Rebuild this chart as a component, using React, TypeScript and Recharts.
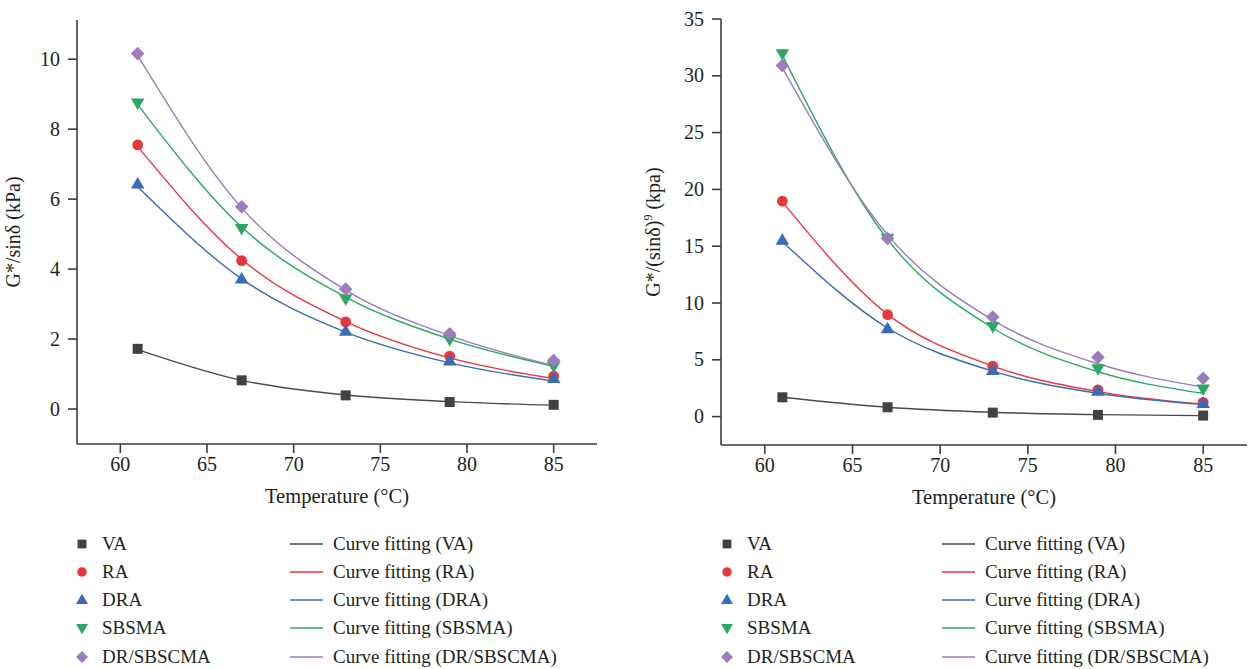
import React from 'react';
import { ComposedChart, Line, Scatter, XAxis, YAxis, Label } from 'recharts';

// Test temperatures (°C) and axis ticks
const temps = [61, 67, 73, 79, 85];
const xTicks = [60, 65, 70, 75, 80, 85];
const leftTicks = [0, 2, 4, 6, 8, 10];
const rightTicks = [0, 5, 10, 15, 20, 25, 30, 35];

// G*/sinδ (kPa) – measured
const rutVA = [1.72, 0.82, 0.39, 0.2, 0.12];
const rutRA = [7.55, 4.24, 2.49, 1.51, 0.94];
const rutDRA = [6.43, 3.72, 2.22, 1.37, 0.87];
const rutSBSMA = [8.75, 5.16, 3.15, 1.99, 1.22];
const rutDRSBSCMA = [10.16, 5.78, 3.43, 2.15, 1.39];

// G*/sinδ (kPa) – fitted curves
const rutFitVA = [1.7, 0.82, 0.4, 0.21, 0.11];
const rutFitRA = [7.5, 4.28, 2.5, 1.46, 0.87];
const rutFitDRA = [6.35, 3.72, 2.2, 1.32, 0.8];
const rutFitSBSMA = [8.7, 5.2, 3.2, 2.0, 1.22];
const rutFitDRSBSCMA = [10.1, 5.75, 3.4, 2.1, 1.24];

// G*/(sinδ)^9 (kpa) – measured
const sfVA = [1.7, 0.82, 0.35, 0.15, 0.09];
const sfRA = [18.97, 8.97, 4.44, 2.35, 1.26];
const sfDRA = [15.53, 7.74, 4.06, 2.23, 1.15];
const sfSBSMA = [31.95, 15.7, 7.94, 4.21, 2.44];
const sfDRSBSCMA = [30.9, 15.68, 8.76, 5.23, 3.38];

// G*/(sinδ)^9 (kpa) – fitted curves
const sfFitVA = [1.7, 0.82, 0.38, 0.17, 0.08];
const sfFitRA = [18.9, 9.0, 4.45, 2.2, 1.1];
const sfFitDRA = [15.4, 7.8, 4.0, 2.05, 1.05];
const sfFitSBSMA = [31.8, 15.6, 7.8, 3.95, 2.05];
const sfFitDRSBSCMA = [30.7, 16.0, 8.5, 4.65, 2.6];

const FONT = '"Liberation Serif", "Times New Roman", serif';
const INK = '#231f20';
const AXIS = '#3d3d3d';

type Kind = 'square' | 'circle' | 'up' | 'down' | 'diamond';

const series: { key: string; name: string; color: string; line: string; kind: Kind }[] = [
  { key: 'va', name: 'VA', color: '#424242', line: '#4a4a4a', kind: 'square' },
  { key: 'ra', name: 'RA', color: '#e8363d', line: '#e8363d', kind: 'circle' },
  { key: 'dra', name: 'DRA', color: '#3a6bb5', line: '#3a6bb5', kind: 'up' },
  { key: 'sbs', name: 'SBSMA', color: '#2ca862', line: '#2ca862', kind: 'down' },
  { key: 'dr', name: 'DR/SBSCMA', color: '#9d7bbf', line: '#9d7bbf', kind: 'diamond' },
];

function buildRows(meas: number[][], fit: number[][]) {
  return temps.map((t, i) => {
    const row: Record<string, number> = { t };
    series.forEach((s, k) => {
      row[s.key] = meas[k][i];
      row[s.key + 'Fit'] = fit[k][i];
    });
    return row;
  });
}

const rutRows = buildRows(
  [rutVA, rutRA, rutDRA, rutSBSMA, rutDRSBSCMA],
  [rutFitVA, rutFitRA, rutFitDRA, rutFitSBSMA, rutFitDRSBSCMA]
);
const sfRows = buildRows(
  [sfVA, sfRA, sfDRA, sfSBSMA, sfDRSBSCMA],
  [sfFitVA, sfFitRA, sfFitDRA, sfFitSBSMA, sfFitDRSBSCMA]
);

function Mark({ kind, cx, cy, fill, s = 1 }: { kind: Kind; cx: number; cy: number; fill: string; s?: number }) {
  if (cx == null || cy == null) return null;
  switch (kind) {
    case 'square':
      return <rect x={cx - 5 * s} y={cy - 5 * s} width={10 * s} height={10 * s} fill={fill} />;
    case 'circle':
      return <circle cx={cx} cy={cy} r={5.4 * s} fill={fill} />;
    case 'up':
      return (
        <polygon
          points={`${cx},${cy - 7 * s} ${cx + 6.8 * s},${cy + 4.5 * s} ${cx - 6.8 * s},${cy + 4.5 * s}`}
          fill={fill}
        />
      );
    case 'down':
      return (
        <polygon
          points={`${cx},${cy + 7 * s} ${cx + 6.8 * s},${cy - 4.5 * s} ${cx - 6.8 * s},${cy - 4.5 * s}`}
          fill={fill}
        />
      );
    default:
      return (
        <polygon
          points={`${cx},${cy - 6.8 * s} ${cx + 6.8 * s},${cy} ${cx},${cy + 6.8 * s} ${cx - 6.8 * s},${cy}`}
          fill={fill}
        />
      );
  }
}

// serif tick labels, drawn at the positions the axis hands over
function XTick({ x, y, payload }: any) {
  return (
    <text x={x} y={y + 16} textAnchor="middle" fontFamily={FONT} fontSize={20} fill={INK}>
      {payload.value}
    </text>
  );
}

function YTick({ x, y, payload }: any) {
  return (
    <text x={x} y={y + 6.5} textAnchor="end" fontFamily={FONT} fontSize={20} fill={INK}>
      {payload.value}
    </text>
  );
}

function Panel({
  rows,
  width,
  top,
  right,
  xAxisHeight,
  yAxisWidth,
  domain,
  ticks,
  yTitle,
}: {
  rows: Record<string, number>[];
  width: number;
  top: number;
  right: number;
  xAxisHeight: number;
  yAxisWidth: number;
  domain: [number, number];
  ticks: number[];
  yTitle: React.ReactNode;
}) {
  return (
    <ComposedChart
      width={width}
      height={520}
      data={rows}
      margin={{ top, right, bottom: 0, left: 0 }}
      style={{ fontFamily: FONT }}
    >
      <XAxis
        dataKey="t"
        type="number"
        domain={[57.5, 87.5]}
        ticks={xTicks}
        tick={<XTick />}
        tickSize={9}
        tickMargin={2}
        stroke={AXIS}
        strokeWidth={1.6}
        height={xAxisHeight}
      >
        <Label
          content={({ viewBox }: any) => (
            <text
              x={viewBox.x + viewBox.width / 2}
              y={viewBox.y + 59}
              textAnchor="middle"
              fontFamily={FONT}
              fontSize={20.5}
              fill={INK}
            >
              Temperature (°C)
            </text>
          )}
        />
      </XAxis>
      <YAxis
        type="number"
        domain={domain}
        ticks={ticks}
        tick={<YTick />}
        tickSize={9}
        tickMargin={8}
        stroke={AXIS}
        strokeWidth={1.6}
        width={yAxisWidth}
        allowDataOverflow
      >
        <Label
          content={({ viewBox }: any) => (
            <text
              transform={`translate(20, ${viewBox.y + viewBox.height / 2}) rotate(-90)`}
              textAnchor="middle"
              fontFamily={FONT}
              fontSize={20}
              fill={INK}
            >
              {yTitle}
            </text>
          )}
        />
      </YAxis>
      {series.map((s) => (
        <Line
          key={s.key + 'Fit'}
          dataKey={s.key + 'Fit'}
          type="monotone"
          stroke={s.line}
          strokeWidth={1.4}
          dot={false}
          activeDot={false}
          isAnimationActive={false}
        />
      ))}
      {series.map((s) => (
        <Scatter
          key={s.key}
          dataKey={s.key}
          isAnimationActive={false}
          shape={(p: any) => <Mark kind={s.kind} cx={p.cx} cy={p.cy} fill={s.color} />}
        />
      ))}
    </ComposedChart>
  );
}

function MarkerLegend({ left, top, lineLeft }: { left: number; top: number; lineLeft: number }) {
  const text: React.CSSProperties = {
    position: 'absolute',
    top: 0,
    fontFamily: FONT,
    fontSize: 19,
    lineHeight: '24px',
    color: INK,
    whiteSpace: 'nowrap',
  };
  return (
    <div style={{ position: 'absolute', left: 0, top: 0, width: 1255, height: 669, pointerEvents: 'none' }}>
      {series.map((s, i) => {
        const y = top + i * 28.3;
        return (
          <React.Fragment key={s.key}>
            <svg style={{ position: 'absolute', left: left - 10, top: y - 10 }} width={20} height={20}>
              <Mark kind={s.kind} cx={10} cy={10} fill={s.color} s={0.88} />
            </svg>
            <div style={{ ...text, left: left + 20, top: y - 12 }}>{s.name}</div>
            <svg style={{ position: 'absolute', left: lineLeft, top: y - 2 }} width={34} height={4}>
              <line x1={0} y1={2} x2={33} y2={2} stroke={s.line} strokeWidth={1.5} />
            </svg>
            <div style={{ ...text, left: lineLeft + 43, top: y - 12 }}>Curve fitting ({s.name})</div>
          </React.Fragment>
        );
      })}
    </div>
  );
}

export default function App() {
  return (
    <div
      style={{
        position: 'absolute',
        left: 0,
        top: 0,
        width: 1255,
        height: 669,
        background: '#fff',
        fontFamily: FONT,
      }}
    >
      <div style={{ position: 'absolute', left: 0, top: 0 }}>
        <Panel
          rows={rutRows}
          width={620}
          top={20}
          right={23}
          xAxisHeight={76}
          yAxisWidth={77}
          domain={[-1, 11.12]}
          ticks={leftTicks}
          yTitle={<>G*/sinδ (kPa)</>}
        />
      </div>
      <div style={{ position: 'absolute', left: 640, top: 0 }}>
        <Panel
          rows={sfRows}
          width={615}
          top={19}
          right={8}
          xAxisHeight={75}
          yAxisWidth={81}
          domain={[-2.5, 35]}
          ticks={rightTicks}
          yTitle={
            <>
              G*/(sinδ)
              <tspan fontSize={12} dy={-8}>
                9
              </tspan>
              <tspan dy={8}> (kpa)</tspan>
            </>
          }
        />
      </div>
      <MarkerLegend left={82} top={543.5} lineLeft={290} />
      <MarkerLegend left={727} top={543.5} lineLeft={942} />
    </div>
  );
}
